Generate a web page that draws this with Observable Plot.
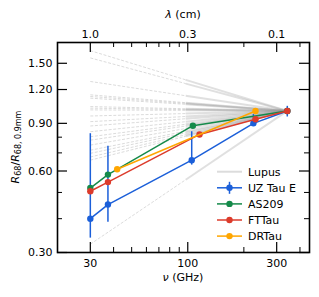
<!DOCTYPE html>
<html><head><meta charset="utf-8">
<script src="https://cdn.jsdelivr.net/npm/d3@7"></script>
<script src="https://cdn.jsdelivr.net/npm/@observablehq/plot@0.6"></script>
<style>
body{margin:0;background:#fff;font-family:"DejaVu Sans",sans-serif;}
#wrap{position:relative;width:319px;height:297px;}
</style></head><body><div id="wrap"></div>
<script>
// ---- data ----
const C_CM_GHZ = 29.98;
const xMajor = [30, 100, 300];
const xMinor = [40, 50, 60, 70, 80, 90, 200, 400];
const lamTicks = [1.0, 0.3, 0.1];
const lamLabels = ["1.0", "0.3", "0.1"];
const yMajor = [0.3, 0.6, 0.9, 1.2, 1.5];
const yMinor = [0.4, 0.5, 0.7, 0.8];

const lupusNu = [30, 97.5, 342];
const lupusR30 = [1.67, 1.57, 1.285, 1.147, 1.131, 1.115, 1.038, 1.024, 1.009, 0.958, 0.913, 0.880, 0.838, 0.803, 0.780, 0.748, 0.716, 0.697, 0.676, 0.658, 0.322];
const lupusRB3 = [1.303, 1.262, 1.138, 1.073, 1.066, 1.058, 1.019, 1.012, 1.005, 0.978, 0.954, 0.936, 0.913, 0.893, 0.880, 0.861, 0.842, 0.830, 0.817, 0.806, 0.557];
const lupusRRef = 1.0;

const uzNu = [30, 37.3, 105, 225, 342];
const uzR  = [0.40, 0.451, 0.658, 0.90, 1.0];
const uzLo = [0.339, 0.388, 0.631, 0.88, 0.95];
const uzHi = [0.824, 0.741, 0.838, 0.97, 1.04];
const asNu = [30, 37.3, 106.5, 342];
const asR  = [0.519, 0.582, 0.882, 1.0];
const ftNu = [30, 37.3, 115.6, 231, 342];
const ftR  = [0.505, 0.546, 0.819, 0.932, 1.0];
const drNu = [41.8, 231];
const drR  = [0.609, 1.0];

const legendNames = ["Lupus", "UZ Tau E", "AS209", "FTTau", "DRTau"];
const colors = {uz: "#1b5fd9", as: "#158a4a", ft: "#dc3b2b", dr: "#ffa600", lupus: "#999999"};

// ---- tables ----
const rows = (nu, r) => nu.map((n, i) => ({nu: n, r: r[i]}));
const uzRows = uzNu.map((n, i) => ({nu: n, r: uzR[i], lo: uzLo[i], hi: uzHi[i]}));
const asRows = rows(asNu, asR), ftRows = rows(ftNu, ftR), drRows = rows(drNu, drR);
const lupDash = lupusR30.map((r, i) => ({x1: lupusNu[0], y1: r, x2: lupusNu[1], y2: lupusRB3[i]}));
const lupSolid = lupusRB3.map((r, i) => ({x1: lupusNu[1], y1: r, x2: lupusNu[2], y2: lupusRRef}));
const topTicks = lamTicks.map((l, i) => ({nu: C_CM_GHZ / l, label: lamLabels[i]}));

const W = 319, H = 297, mL = 57, mR = 10, mT = 42, mB = 45;
const fh = H - mT - mB, fw = W - mL - mR;
const TL = 10, TS = 5;

const plot = Plot.plot({
  width: W, height: H,
  marginLeft: mL, marginRight: mR, marginTop: mT, marginBottom: mB,
  style: {fontFamily: "DejaVu Sans", fontSize: "11px", background: "#fff", color: "#000"},
  x: {type: "log", domain: [20, 450]},
  y: {type: "log", domain: [0.3, 1.79]},
  marks: [
    Plot.link(lupDash, {x1: "x1", y1: "y1", x2: "x2", y2: "y2", stroke: "#b4b4b4", strokeWidth: 0.8, strokeDasharray: "3,1.6", strokeOpacity: 0.6}),
    Plot.link(lupSolid, {x1: "x1", y1: "y1", x2: "x2", y2: "y2", stroke: colors.lupus, strokeWidth: 2, strokeOpacity: 0.3}),
    Plot.line(uzRows, {x: "nu", y: "r", stroke: colors.uz, strokeWidth: 1.5}),
    Plot.ruleX(uzRows, {x: "nu", y1: "lo", y2: "hi", stroke: colors.uz, strokeWidth: 1.5}),
    Plot.dot(uzRows, {x: "nu", y: "r", r: 3.2, fill: colors.uz}),
    Plot.line(asRows, {x: "nu", y: "r", stroke: colors.as, strokeWidth: 1.5}),
    Plot.dot(asRows, {x: "nu", y: "r", r: 3.2, fill: colors.as}),
    Plot.line(ftRows, {x: "nu", y: "r", stroke: colors.ft, strokeWidth: 1.5}),
    Plot.dot(ftRows, {x: "nu", y: "r", r: 3.2, fill: colors.ft}),
    Plot.line(drRows, {x: "nu", y: "r", stroke: colors.dr, strokeWidth: 1.5}),
    Plot.dot(drRows, {x: "nu", y: "r", r: 3.2, fill: colors.dr}),
    // ticks (inward)
    Plot.ruleX(xMajor, {insetTop: fh - TL, stroke: "#000", strokeWidth: 1.2}),
    Plot.ruleX(xMinor, {insetTop: fh - TS, stroke: "#000", strokeWidth: 1}),
    Plot.ruleX(xMajor, {insetBottom: fh - TL, stroke: "#000", strokeWidth: 1.2}),
    Plot.ruleX(xMinor, {insetBottom: fh - TS, stroke: "#000", strokeWidth: 1}),
    Plot.ruleY(yMajor, {insetRight: fw - TL, stroke: "#000", strokeWidth: 1.2}),
    Plot.ruleY(yMinor, {insetRight: fw - TS, stroke: "#000", strokeWidth: 1}),
    Plot.ruleY(yMajor, {insetLeft: fw - TL, stroke: "#000", strokeWidth: 1.2}),
    Plot.ruleY(yMinor, {insetLeft: fw - TS, stroke: "#000", strokeWidth: 1}),
    Plot.axisX({anchor: "bottom", ticks: xMajor, tickSize: 0, tickPadding: 7, tickFormat: d => String(d), label: null}),
    Plot.text(topTicks, {x: "nu", text: "label", frameAnchor: "top", dy: -12, fill: "#000"}),
    Plot.axisY({anchor: "left", ticks: yMajor, tickSize: 0, tickPadding: 5, tickFormat: d3.format(".2f"), label: null}),
    Plot.frame({stroke: "#000", strokeWidth: 1.6})
  ]
});
document.getElementById("wrap").appendChild(plot);

const svg = d3.select(plot);
const FF = "DejaVu Sans";
// y label
const yl = svg.append("text").attr("transform", "translate(18.5,147) rotate(-90)")
  .attr("text-anchor", "middle").attr("font-size", 11).attr("font-family", FF).attr("fill", "#000");
yl.append("tspan").attr("font-style", "italic").text("R");
yl.append("tspan").attr("font-size", 8).attr("dy", 2.5).text("68");
yl.append("tspan").attr("dy", -2.5).text("/");
yl.append("tspan").attr("font-style", "italic").text("R");
yl.append("tspan").attr("font-size", 8).attr("dy", 2.5).text("68, 0.9mm");
// x label
const xl = svg.append("text").attr("x", mL + fw / 2).attr("y", 281).attr("text-anchor", "middle")
  .attr("font-size", 11).attr("font-family", FF).attr("fill", "#000");
xl.append("tspan").attr("font-style", "italic").text("ν");
xl.append("tspan").text(" (GHz)");
const tl = svg.append("text").attr("x", mL + fw / 2).attr("y", 18).attr("text-anchor", "middle")
  .attr("font-size", 11).attr("font-family", FF).attr("fill", "#000");
tl.append("tspan").attr("font-style", "italic").text("λ");
tl.append("tspan").text(" (cm)");

// legend
const lg = svg.append("g").attr("font-family", FF).attr("font-size", 11).attr("text-anchor", "start");
const legColors = [null, colors.uz, colors.as, colors.ft, colors.dr];
legendNames.forEach((name, i) => {
  const cy = 171.7 + i * 16.1;
  const g = lg.append("g");
  if (i === 0) {
    g.append("line").attr("x1", 217).attr("x2", 242).attr("y1", cy).attr("y2", cy)
      .attr("stroke", "#dcdcdc").attr("stroke-width", 2);
  } else {
    g.append("line").attr("x1", 217).attr("x2", 242).attr("y1", cy).attr("y2", cy)
      .attr("stroke", legColors[i]).attr("stroke-width", 1.5);
    if (i === 1) g.append("line").attr("x1", 229.5).attr("x2", 229.5).attr("y1", cy - 6).attr("y2", cy + 6)
      .attr("stroke", legColors[i]).attr("stroke-width", 1.5);
    g.append("circle").attr("cx", 229.5).attr("cy", cy).attr("r", 3.2).attr("fill", legColors[i]);
  }
  g.append("text").attr("x", 248).attr("y", cy + 4).attr("text-anchor", "start").attr("fill", "#000").text(name);
});
</script></body></html>
